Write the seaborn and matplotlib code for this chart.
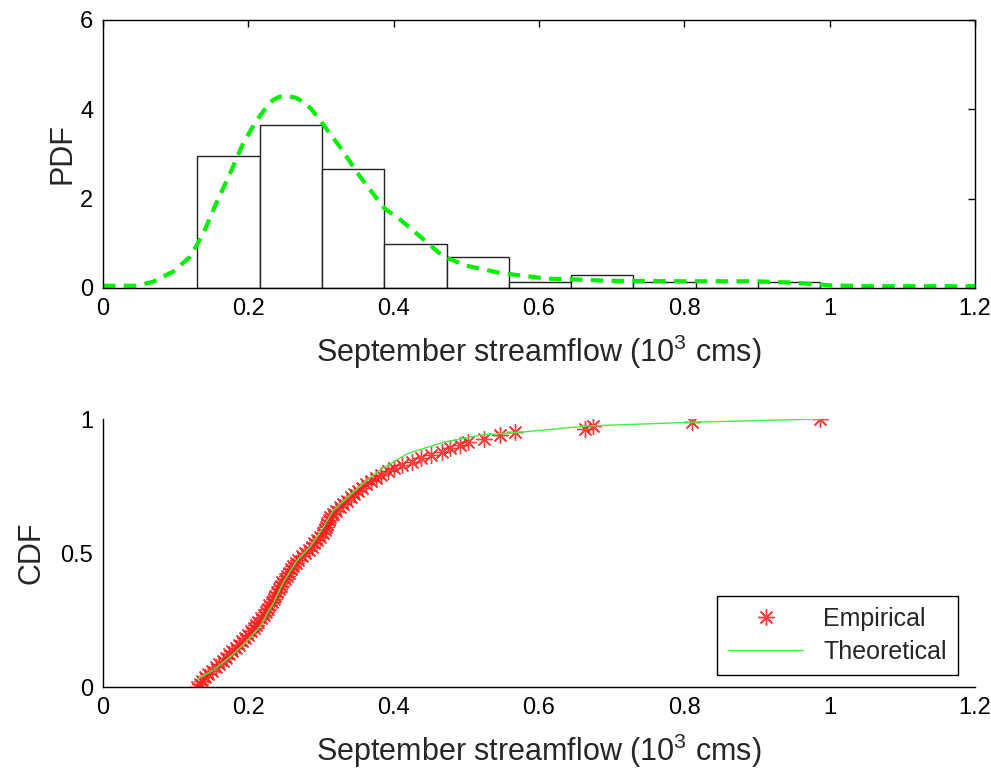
import numpy as np
import matplotlib
matplotlib.use('Agg')
import matplotlib.pyplot as plt
import seaborn as sns

# September streamflow sample (10^3 cms)
FLOW = [
    0.130, 0.133, 0.136, 0.140, 0.145, 0.150, 0.155, 0.160, 0.165, 0.170,
    0.174, 0.178, 0.183, 0.187, 0.192, 0.196, 0.200, 0.204, 0.208, 0.211,
    0.214,
    0.218, 0.221, 0.224, 0.227, 0.229, 0.232, 0.235, 0.237, 0.240, 0.242,
    0.245, 0.247, 0.250, 0.253, 0.256, 0.259, 0.262, 0.265, 0.269, 0.274,
    0.278, 0.283, 0.287, 0.291, 0.295, 0.299,
    0.303, 0.305, 0.307, 0.309, 0.311, 0.313, 0.316, 0.321, 0.326, 0.331,
    0.336, 0.341, 0.346, 0.351, 0.356, 0.362, 0.369, 0.376, 0.383,
    0.392, 0.401, 0.412, 0.425, 0.438, 0.452, 0.466,
    0.478, 0.491, 0.503, 0.524, 0.546,
    0.567, 0.663, 0.674, 0.810, 0.987,
]
N_BINS = 10

# fitted pdf (green dashed curve)
PDF_X = [0.0, 0.046, 0.069, 0.097, 0.120, 0.138, 0.156, 0.175, 0.193, 0.2115,
         0.222, 0.234, 0.243, 0.253, 0.265, 0.276, 0.287, 0.2986, 0.326, 0.354,
         0.3868, 0.409, 0.436, 0.468, 0.500, 0.546, 0.610, 0.650, 0.700, 0.800,
         0.900, 0.950, 1.000, 1.050, 1.200]
PDF_Y = [0.05, 0.05, 0.14, 0.37, 0.70, 1.22, 1.90, 2.57, 3.24, 3.76,
         3.98, 4.21, 4.28, 4.30, 4.26, 4.17, 4.00, 3.76, 3.16, 2.49,
         1.79, 1.53, 1.16, 0.71, 0.50, 0.34, 0.21, 0.19, 0.16, 0.15,
         0.15, 0.12, 0.06, 0.04, 0.04]

# theoretical cdf (thin green line)
CDF_X = [0.130, 0.1335, 0.152, 0.175, 0.195, 0.216, 0.225, 0.234, 0.248, 0.2665,
         0.285, 0.303, 0.317, 0.3375, 0.358, 0.381, 0.404, 0.420, 0.468, 0.519,
         0.583, 0.666, 0.810, 0.987]
CDF_Y = [0.030, 0.036, 0.063, 0.113, 0.163, 0.225, 0.270, 0.310, 0.390, 0.470,
         0.523, 0.595, 0.660, 0.710, 0.760, 0.810, 0.847, 0.872, 0.913, 0.940,
         0.953, 0.974, 0.988, 1.000]

XLABEL = 'September streamflow (10$^{3}$ cms)'

sns.set_style('white')
plt.rcParams['font.family'] = ['Liberation Sans', 'DejaVu Sans']
plt.rcParams['mathtext.default'] = 'regular'

fig = plt.figure(figsize=(9.91, 7.75), dpi=100)
ax1 = fig.add_axes([0.1039, 0.6284, 0.8799, 0.3458])
ax2 = fig.add_axes([0.1039, 0.1135, 0.8799, 0.3458])

# top panel: histogram + pdf
flow = np.array(FLOW)
edges = np.linspace(flow.min(), flow.max(), N_BINS + 1)
sns.histplot(x=flow, bins=edges, stat='density', color='white', alpha=1,
             edgecolor='#222222', linewidth=1, ax=ax1)
sns.lineplot(x=PDF_X, y=PDF_Y, color='#00ee00', lw=3, linestyle=(0, (3, 2)),
             estimator=None, sort=False, ax=ax1)
ax1.set_xlim(0, 1.2)
ax1.set_ylim(0, 6)
ax1.set_yticks([0, 2, 4, 6])
ax1.set_ylabel('PDF', fontsize=22, labelpad=2)

# bottom panel: empirical vs theoretical cdf
xs = np.sort(flow)
ecdf = np.arange(len(xs)) / (len(xs) - 1)
sns.lineplot(x=xs, y=ecdf, color='#ff2020', marker=(8, 2, 0), markersize=12,
             mec='#ff2020', mew=1, alpha=0.85, linestyle='none', estimator=None,
             sort=False, label='Empirical', ax=ax2)
sns.lineplot(x=CDF_X, y=CDF_Y, color='#44ee44', lw=1, estimator=None,
             sort=False, label='Theoretical', ax=ax2)
ax2.set_xlim(0, 1.2)
ax2.set_ylim(0, 1)
ax2.set_yticks([0, 0.5, 1])
ax2.set_yticklabels(['0', '0.5', '1'])
ax2.set_ylabel('CDF', fontsize=22, labelpad=10)
ax2.spines['top'].set_visible(False)
ax2.spines['right'].set_visible(False)
ax2.legend(loc='lower right', bbox_to_anchor=(0.9805, 0.045), fontsize=18,
           frameon=True, fancybox=False, edgecolor='black', framealpha=1,
           borderpad=0.45, borderaxespad=0, handlelength=3.0,
           labelspacing=0.35, handletextpad=0.8)

xt = [0, 0.2, 0.4, 0.6, 0.8, 1.0, 1.2]
xtl = ['0', '0.2', '0.4', '0.6', '0.8', '1', '1.2']
for ax in (ax1, ax2):
    ax.set_xticks(xt)
    ax.set_xticklabels(xtl)
    ax.set_xlabel(XLABEL, fontsize=22, labelpad=9)
    ax.tick_params(direction='in', length=5, width=1, labelsize=17,
                   colors='black', pad=7)
    for sp in ax.spines.values():
        sp.set_color('black')
        sp.set_linewidth(1)
ax1.tick_params(top=True, right=True)

fig.savefig('out.png', dpi=100)
